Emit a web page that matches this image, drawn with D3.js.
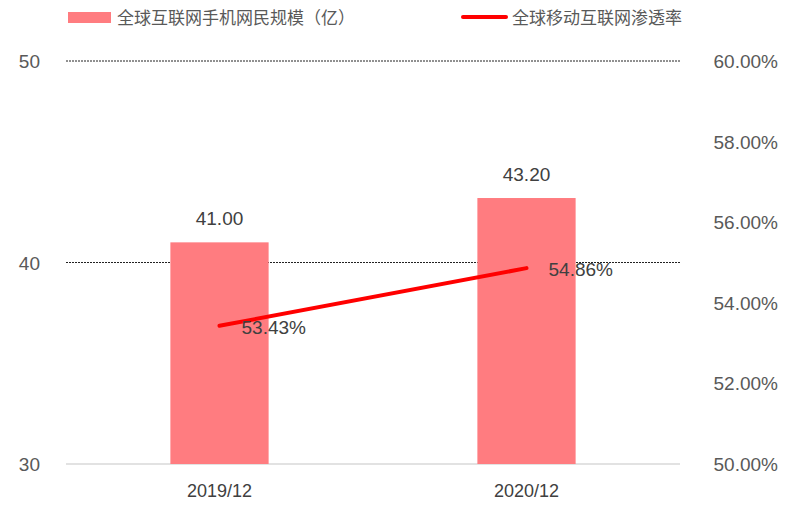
<!DOCTYPE html>
<html><head><meta charset="utf-8">
<script src="https://cdn.jsdelivr.net/npm/d3@7"></script>
<style>body{margin:0;background:#fff;font-family:"Liberation Sans",Arial,sans-serif;}</style>
</head><body><svg width="800" height="529"></svg>
<script>
var categories = ["2019/12", "2020/12"];
var users = [41.0, 43.2];
var rate = [53.43, 54.86];
var leftTicks = [30, 40, 50];
var rightTicks = [50, 52, 54, 56, 58, 60];

var svg = d3.select("svg");
var margin = { left: 66, right: 120, top: 61, bottom: 64 };
var width = 800, height = 529;

var x = d3.scaleBand().domain(categories)
  .range([66, 680]).paddingInner(0.68).paddingOuter(0.34);
var y = d3.scaleLinear().domain([30, 50]).range([464, 61]);
var y2 = d3.scaleLinear().domain([50, 60]).range([464, 61]);

// gridlines
svg.append("g").selectAll("line").data([40, 50]).join("line")
  .attr("x1", 66).attr("x2", 680)
  .attr("y1", d => y(d)).attr("y2", d => y(d))
  .attr("stroke", "#222").attr("stroke-dasharray", "2,1");
svg.append("line").attr("x1", 66).attr("x2", 680)
  .attr("y1", y(30)).attr("y2", y(30)).attr("stroke", "#d9d9d9").attr("stroke-width", 1.5);

// left axis labels
svg.append("g").selectAll("text").data(leftTicks).join("text")
  .attr("x", 40).attr("y", d => y(d) + 7).attr("text-anchor", "end")
  .attr("font-size", 19).attr("fill", "#595959").text(d => d);

// right axis labels
svg.append("g").selectAll("text").data(rightTicks).join("text")
  .attr("x", 778).attr("y", d => y2(d) + 7).attr("text-anchor", "end")
  .attr("font-size", 19).attr("fill", "#595959").text(d => d.toFixed(2) + "%");

// bars
svg.append("g").selectAll("rect").data(users).join("rect")
  .attr("x", (d, i) => x(categories[i])).attr("width", x.bandwidth())
  .attr("y", d => y(d)).attr("height", d => y(30) - y(d))
  .attr("fill", "#ff7c80");

svg.append("g").selectAll("text").data(users).join("text")
  .attr("x", (d, i) => x(categories[i]) + x.bandwidth() / 2)
  .attr("y", d => y(d) - 17).attr("text-anchor", "middle")
  .attr("font-size", 19).attr("fill", "#404040").text(d => d.toFixed(2));

// category labels
svg.append("g").selectAll("text").data(categories).join("text")
  .attr("x", d => x(d) + x.bandwidth() / 2).attr("y", 497).attr("text-anchor", "middle")
  .attr("font-size", 18).attr("fill", "#404040").text(d => d);

// line
var line = d3.line()
  .x((d, i) => x(categories[i]) + x.bandwidth() / 2)
  .y(d => y2(d));
svg.append("path").datum(rate).attr("d", line)
  .attr("fill", "none").attr("stroke", "#ff0000").attr("stroke-width", 4).attr("stroke-linecap", "round");

svg.append("g").selectAll("text").data(rate).join("text")
  .attr("x", (d, i) => x(categories[i]) + x.bandwidth() / 2 + 22)
  .attr("y", d => y2(d) + 8)
  .attr("font-size", 19).attr("fill", "#404040").text(d => d.toFixed(2) + "%");

// legend
svg.append("rect").attr("x", 68).attr("y", 12).attr("width", 43).attr("height", 11).attr("fill", "#ff7c80");
svg.append("text").attr("x", 117).attr("y", 24).attr("font-size", 17).attr("fill", "#595959")
  .attr("font-family", "Noto Sans CJK SC").text("全球互联网手机网民规模（亿）");
svg.append("line").attr("x1", 463).attr("x2", 506).attr("y1", 17).attr("y2", 17)
  .attr("stroke", "#ff0000").attr("stroke-width", 4).attr("stroke-linecap", "round");
svg.append("text").attr("x", 512).attr("y", 24).attr("font-size", 17).attr("fill", "#595959")
  .attr("font-family", "Noto Sans CJK SC").text("全球移动互联网渗透率");
</script></body></html>
